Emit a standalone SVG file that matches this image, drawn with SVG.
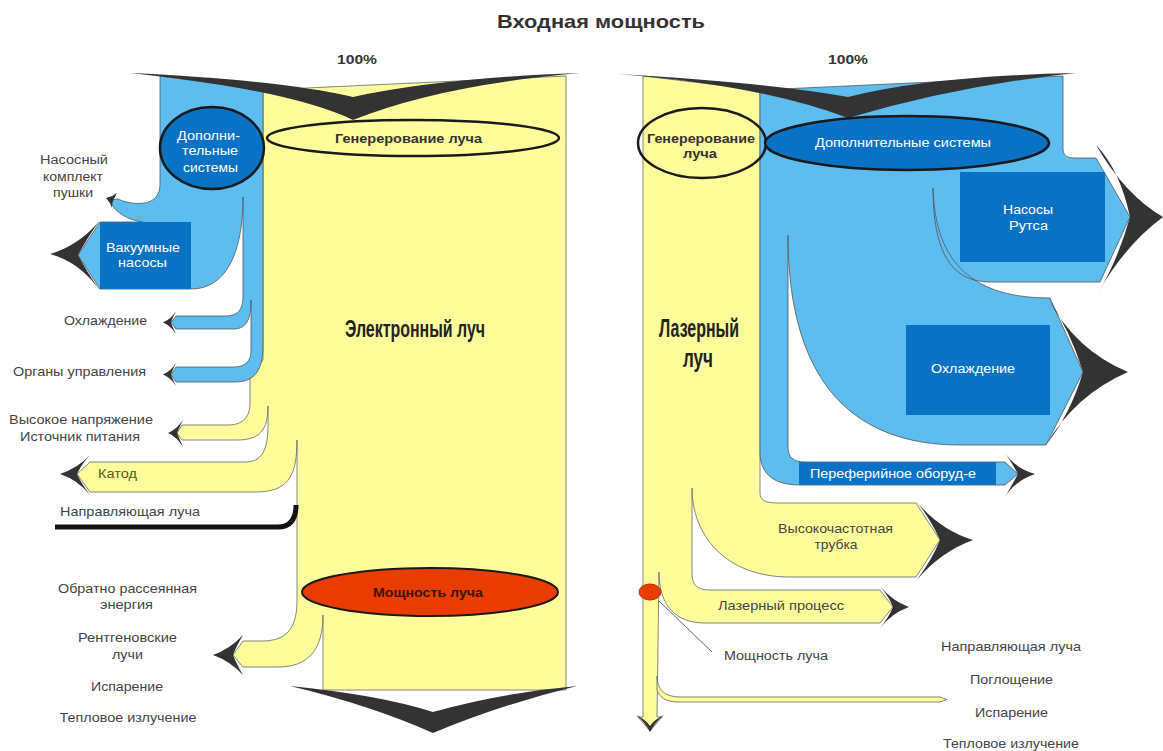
<svg xmlns="http://www.w3.org/2000/svg" width="1163" height="751" viewBox="0 0 1163 751">
<style>
.lb{fill:#5DBDF0;stroke:#555;stroke-width:0.8;stroke-linejoin:round}
.yl{fill:#FFFD9B;stroke:#666;stroke-width:0.8;stroke-linejoin:round}
.db{fill:#0A72C4}
.dk{fill:#333;stroke:none}
.ell{stroke:#1a1a1a;stroke-width:2.5}
.t{font-family:"Liberation Sans",Arial,sans-serif;font-size:13px;fill:#444;text-anchor:middle}
.w{font-family:"Liberation Sans",Arial,sans-serif;font-size:12.5px;fill:#fff;text-anchor:middle}
.b{font-family:"Liberation Sans",Arial,sans-serif;font-size:12.5px;font-weight:bold;fill:#333;text-anchor:middle}
.big{font-family:"Liberation Sans Narrow","Liberation Sans",Arial,sans-serif;font-size:24px;font-weight:bold;fill:#222;text-anchor:middle}
</style>
<rect width="1163" height="751" fill="#fff"/>
<text x="601" y="28" class="b" style="font-size:19px" textLength="208" lengthAdjust="spacingAndGlyphs">Входная мощность</text>
<text x="357" y="64" class="b" textLength="40" lengthAdjust="spacingAndGlyphs">100%</text>
<text x="848" y="64" class="b" textLength="40" lengthAdjust="spacingAndGlyphs">100%</text>

<g id="left-flow">
<path class="yl" d="M263,90 L566,76 L566,690 L323,690 L323,615 C323,650 308,667 278,667 L243,667 L233,655 L243,641 L262,641 C287,641 297,628 297,600 L297,440 C297,478 287,492 255,492 L90,492 L77,474 L90,462 L245,462 C262,462 268,450 268,425 L268,406 C268,430 260,440 237,440 L182,440 L177,433 L182,425 L228,425 C244,425 250,416 250,403 L250,378 L263,360 Z"/>
<path class="lb" d="M160,76 L263,90 L263,345 C263,370 255,382 235,382 L176,382 L171,374.5 L176,367 L233,367 C245,367 251,362 251,350 L251,300 C251,322 245,329 233,329 L176,329 L171,322.5 L176,316 L225,316 C238,316 243,310 243,295 L243,197 C243,255 225,289 191,289 L100,289 L78,255 L100,222 L143,222 C128,220 117,213 112,205 L110,200 L118,199 C128,204 146,206 154,199 C159,194 160,190 160,182 Z"/>
<path d="M296,505 C296,520 290,527 278,527 L55,527" fill="none" stroke="#111" stroke-width="5"/>
</g>

<g id="left-arrowheads">
<path class="dk" d="M130,73 Q280,80 353,97 Q440,78 580,73 Q440,85 353,120 Q290,90 130,73 Z"/>
<path class="dk" d="M290,686 Q380,695 433,712 Q500,693 577,686 Q500,705 433,733 Q370,705 290,686 Z"/>
<path class="dk" d="M100,220 Q80,245 50,254 Q80,262 100,291 Q86,270 78,255 Q86,240 100,220 Z"/>
<path class="dk" d="M117,193 Q112,197 106,198 Q110,202 112,208 Q112,202 114,199 Z"/>
<path class="dk" d="M176,311 Q171,319 163,322.5 Q171,326 176,334 Q172,326 171,322.5 Q172,319 176,311 Z"/>
<path class="dk" d="M176,363 Q171,371 163,374.5 Q171,378 176,386 Q172,378 171,374.5 Q172,371 176,363 Z"/>
<path class="dk" d="M183,420 Q177,429 168,433 Q177,437 183,447 Q179,438 177,433 Q179,428 183,420 Z"/>
<path class="dk" d="M90,455 Q78,468 60,474 Q78,480 90,495 Q81,483 77,474 Q81,465 90,455 Z"/>
<path class="dk" d="M243,635 Q230,649 213,655 Q230,661 243,675 Q236,663 233,655 Q236,647 243,635 Z"/>
</g>

<g id="left-gen">
<ellipse cx="413" cy="138" rx="146" ry="18" fill="none" class="ell"/>
<text x="408.5" y="142.5" class="b" textLength="147" lengthAdjust="spacingAndGlyphs">Генерерование луча</text>
</g>
<g id="left-dop">
<ellipse cx="212" cy="148" rx="52" ry="41" class="db ell"/>
<text x="208.5" y="139.5" class="w" textLength="63" lengthAdjust="spacingAndGlyphs">Дополни-</text>
<text x="210" y="154.5" class="w" textLength="56" lengthAdjust="spacingAndGlyphs">тельные</text>
<text x="210.5" y="171.5" class="w" textLength="55" lengthAdjust="spacingAndGlyphs">системы</text>
</g>
<g id="left-vac">
<rect x="100" y="222" width="91" height="67" class="db"/>
<text x="143" y="252" class="w" textLength="74" lengthAdjust="spacingAndGlyphs">Вакуумные</text>
<text x="142.5" y="267" class="w" textLength="49" lengthAdjust="spacingAndGlyphs">насосы</text>
</g>
<g id="left-power">
<ellipse cx="430" cy="592" rx="128" ry="24" fill="#E83C00" class="ell" style="stroke-width:2"/>
<text x="428" y="596.5" class="b" style="fill:#3a1500" textLength="110" lengthAdjust="spacingAndGlyphs">Мощность луча</text>
</g>
<g id="left-labels">
<text x="415" y="337" class="big" textLength="140" lengthAdjust="spacingAndGlyphs">Электронный луч</text>
<text x="74" y="164" class="t" textLength="68" lengthAdjust="spacingAndGlyphs">Насосный</text>
<text x="73" y="181" class="t" textLength="60" lengthAdjust="spacingAndGlyphs">комплект</text>
<text x="73" y="197" class="t" textLength="40" lengthAdjust="spacingAndGlyphs">пушки</text>
<text x="105.5" y="325" class="t" textLength="83" lengthAdjust="spacingAndGlyphs">Охлаждение</text>
<text x="79.5" y="376" class="t" textLength="133" lengthAdjust="spacingAndGlyphs">Органы управления</text>
<text x="81" y="424" class="t" textLength="144" lengthAdjust="spacingAndGlyphs">Высокое напряжение</text>
<text x="80" y="441" class="t" textLength="120" lengthAdjust="spacingAndGlyphs">Источник питания</text>
<text x="117.5" y="478" class="t" style="fill:#5a5a20" textLength="39" lengthAdjust="spacingAndGlyphs">Катод</text>
<text x="130" y="516" class="t" textLength="140" lengthAdjust="spacingAndGlyphs">Направляющая луча</text>
<text x="127.5" y="593" class="t" textLength="139" lengthAdjust="spacingAndGlyphs">Обратно рассеянная</text>
<text x="126.5" y="609" class="t" textLength="53" lengthAdjust="spacingAndGlyphs">энергия</text>
<text x="127.5" y="642" class="t" textLength="99" lengthAdjust="spacingAndGlyphs">Рентгеновские</text>
<text x="127.5" y="659" class="t" textLength="31" lengthAdjust="spacingAndGlyphs">лучи</text>
<text x="127" y="691" class="t" textLength="72" lengthAdjust="spacingAndGlyphs">Испарение</text>
<text x="128" y="722" class="t" textLength="137" lengthAdjust="spacingAndGlyphs">Тепловое излучение</text>
</g>

<g id="right-flow">
<path class="yl" d="M643,76 L760,90 L760,493 C760,500 765,503 778,503 L916,503 L940,540 L916,577 L790,577 C725,577 692,535 692,488 L692,573 C692,585 697,590 710,590 L880,590 L893,607 L880,623 L705,623 C675,623 659,605 659,572 L657,717 L662,717 L650,731 L638,717 L643,717 Z"/>
<path class="yl" d="M657,676 C657,690 665,697 680,697 L940,697 L947,699.5 L940,702 L678,702 C666,702 659,697 657,690 Z"/>
<path class="lb" d="M760,90 L1063,76 L1063,148 C1063,155 1066,158 1075,158 L1096,158 L1130,217 L1100,282 L990,282 C950,282 933,250 933,188 C935,265 975,298 1050,298 L1083,372 L1046,445 L960,445 C860,445 788,390 788,235 L788,447 C788,457 793,462 805,462 L1005,462 L1018,474 L1005,485 L800,485 C775,485 760,475 760,452 Z"/>
<path d="M659,601 L712,652" stroke="#666" stroke-width="1" fill="none"/>
</g>

<g id="right-arrowheads">
<path class="dk" d="M618,74 Q760,82 848,97 Q930,76 1076,73 Q960,85 848,118 Q760,85 618,74 Z"/>
<path class="dk" d="M1096,145 Q1125,195 1163,217 Q1125,245 1098,293 Q1118,260 1130,217 Q1120,170 1096,145 Z"/>
<path class="dk" d="M1048,298 Q1075,350 1128,372 Q1075,395 1046,445 Q1070,415 1083,372 Q1070,330 1048,298 Z"/>
<path class="dk" d="M1005,453 Q1015,468 1035,474 Q1015,481 1005,497 Q1012,485 1018,474 Q1012,463 1005,453 Z"/>
<path class="dk" d="M916,501 Q940,530 973,540 Q940,552 916,581 Q932,560 940,540 Q930,518 916,501 Z"/>
<path class="dk" d="M880,586 Q892,601 909,607 Q892,613 880,628 Q889,617 893,607 Q889,597 880,586 Z"/>
<path class="dk" d="M636,715 Q645,722 650,732 Q655,722 664,715 Q655,719 650,726 Q645,719 636,715 Z"/>
</g>

<g id="right-gen">
<ellipse cx="702" cy="143" rx="64" ry="35" fill="none" class="ell"/>
<text x="701" y="142.5" class="b" textLength="108" lengthAdjust="spacingAndGlyphs">Генерерование</text>
<text x="700" y="157.5" class="b" textLength="34" lengthAdjust="spacingAndGlyphs">луча</text>
</g>
<g id="right-dop">
<ellipse cx="907" cy="143" rx="142" ry="27" class="db ell"/>
<text x="903" y="146.5" class="w" textLength="176" lengthAdjust="spacingAndGlyphs">Дополнительные системы</text>
</g>
<g id="right-roots">
<rect x="960" y="172" width="145" height="90" class="db"/>
<text x="1028" y="213.5" class="w" textLength="50" lengthAdjust="spacingAndGlyphs">Насосы</text>
<text x="1028.5" y="229.5" class="w" textLength="39" lengthAdjust="spacingAndGlyphs">Рутса</text>
</g>
<g id="right-cool">
<rect x="906" y="325" width="144" height="90" class="db"/>
<text x="973" y="372.5" class="w" textLength="84" lengthAdjust="spacingAndGlyphs">Охлаждение</text>
</g>
<g id="right-periph">
<rect x="799" y="462" width="197" height="23" class="db"/>
<text x="893" y="477.5" class="w" textLength="166" lengthAdjust="spacingAndGlyphs">Переферийное оборуд-е</text>
</g>
<g id="right-power">
<ellipse cx="650" cy="592" rx="11" ry="8" fill="#E83C00" stroke="#c03000" stroke-width="1"/>
</g>
<g id="right-labels">
<text x="699" y="337" class="big" style="font-size:25px" textLength="80" lengthAdjust="spacingAndGlyphs">Лазерный</text>
<text x="698" y="367" class="big" style="font-size:25px" textLength="30" lengthAdjust="spacingAndGlyphs">луч</text>
<text x="835.5" y="533" class="t" textLength="115" lengthAdjust="spacingAndGlyphs">Высокочастотная</text>
<text x="836" y="549" class="t" textLength="43" lengthAdjust="spacingAndGlyphs">трубка</text>
<text x="781" y="610" class="t" textLength="126" lengthAdjust="spacingAndGlyphs">Лазерный процесс</text>
<text x="776" y="660" class="t" textLength="104" lengthAdjust="spacingAndGlyphs">Мощность луча</text>
<text x="1011" y="651" class="t" textLength="140" lengthAdjust="spacingAndGlyphs">Направляющая луча</text>
<text x="1011.5" y="684" class="t" textLength="83" lengthAdjust="spacingAndGlyphs">Поглощение</text>
<text x="1011.5" y="717" class="t" textLength="73" lengthAdjust="spacingAndGlyphs">Испарение</text>
<text x="1011" y="748" class="t" textLength="136" lengthAdjust="spacingAndGlyphs">Тепловое излучение</text>
</g>
</svg>
